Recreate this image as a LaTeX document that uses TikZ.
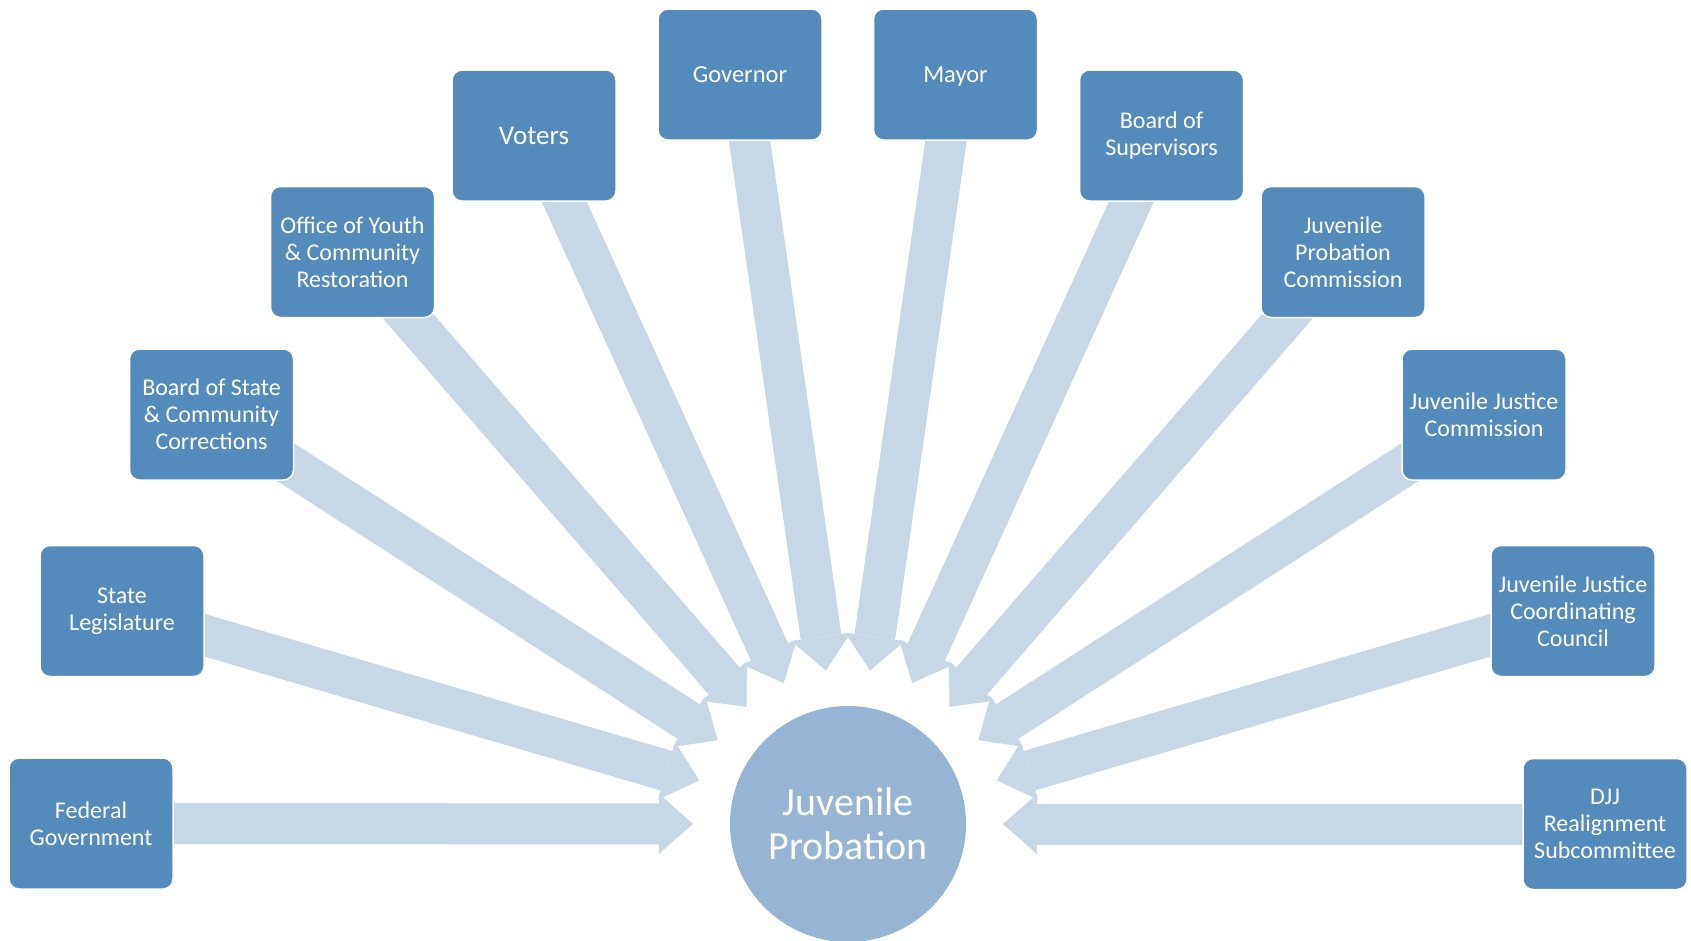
\documentclass[tikz,border=0pt]{standalone}
\usepackage{fontspec}
\setmainfont{Carlito}
\usetikzlibrary{arrows.meta,calc}
\definecolor{boxblue}{HTML}{558BBA}
\definecolor{arrowblue}{HTML}{C8D7E6}
\definecolor{hubblue}{HTML}{96B5D4}
\pgfdeclarelayer{bg}
\pgfsetlayers{bg,main}
\begin{document}
\begin{tikzpicture}[x=1pt,y=-1pt,
  agency/.style={rectangle, rounded corners=10pt, fill=boxblue, draw=white, line width=1.5pt,
    minimum width=164pt, minimum height=131pt, inner sep=2pt, align=center, text=white,
    font=\fontsize{24}{27}\selectfont},
  hub/.style={circle, fill=hubblue, minimum size=236pt, inner sep=0pt, align=center, text=white,
    font=\fontsize{40}{44}\selectfont},
  feed/.style={draw=arrowblue, line width=41pt,
    -{Triangle[width=60pt,length=34pt,line width=0pt]}}]
\useasboundingbox (0,0) rectangle (1691,940);
\node[hub] (jp) at (848,824) {Juvenile\\Probation};
% left side
\node[agency] (fed) at (91,823.5) {Federal\\Government};
\node[agency] (leg) at (122,611) {State\\Legislature};
\node[agency] (bscc) at (211.5,414.5) {Board of State\\\& Community\\Corrections};
\node[agency] (oycr) at (352.5,252) {Office of Youth\\\& Community\\Restoration};
\node[agency, font=\fontsize{27}{30}\selectfont] (vot) at (534,135.5) {Voters};
\node[agency, font=\fontsize{24.5}{28}\selectfont, text height=16pt, text depth=0pt] (gov) at (740,74.5) {Governor};
% right side
\node[agency, font=\fontsize{24.5}{28}\selectfont, text height=16pt, text depth=0pt] (may) at (955.5,74.5) {Mayor};
\node[agency] (bos) at (1161.5,135.5) {Board of\\Supervisors};
\node[agency] (jpc) at (1343,252) {Juvenile\\Probation\\Commission};
\node[agency] (jjc) at (1484,414.5) {Juvenile Justice\\Commission};
\node[agency] (jjcc) at (1573,611) {Juvenile Justice\\Coordinating\\Council};
\node[agency] (djj) at (1605,824) {DJJ\\Realignment\\Subcommittee};
\begin{pgfonlayer}{bg}
\foreach \src in {fed,leg,bscc,oycr,vot,gov,may,bos,jpc,jjc,jjcc,djj}
  \draw[feed] (\src.center) -- ($(jp.center)!155pt!(\src.center)$);
\end{pgfonlayer}
\end{tikzpicture}
\end{document}
